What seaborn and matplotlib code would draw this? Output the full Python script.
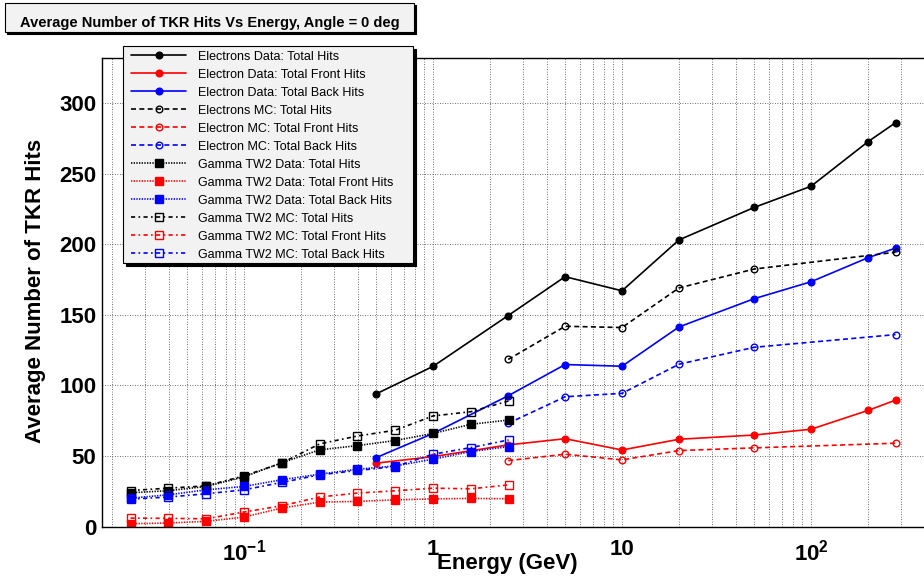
import numpy as np
import pandas as pd
import matplotlib
matplotlib.use("Agg")
import matplotlib.pyplot as plt
import matplotlib.ticker as mticker
from matplotlib.patches import Rectangle
import seaborn as sns

# Energies (GeV)
e_el = [0.5, 1, 2.5, 5, 10, 20, 50, 100, 200, 280]
e_mc = [2.5, 5, 10, 20, 50, 280]
e_gam = [0.0251, 0.0398, 0.0631, 0.1, 0.158, 0.251, 0.398, 0.631, 1.0, 1.585, 2.512]

# Electron beam data
el_data_tot = [94, 113.5, 149.5, 177, 167, 203, 226, 241, 272.5, 286]
el_data_front = [45, 49.6, 57.9, 62.3, 54.3, 61.9, 64.9, 69, 82.3, 89.6]
el_data_back = [48.9, 66, 92.7, 114.8, 113.6, 141.4, 161.4, 173.4, 190.4, 197.2]
# Electron MC
el_mc_tot = [118.4, 141.9, 141, 169, 182.4, 194.3]
el_mc_front = [46.8, 51.3, 47.3, 53.9, 55.8, 59.1]
el_mc_back = [73.2, 92, 94.4, 115, 127, 136]
# Gamma TW2 data
gam_data_tot = [24, 25.5, 28.5, 35.3, 45.2, 54.4, 57.4, 61, 66, 72.5, 75.5]
gam_data_front = [2.1, 2.6, 3.8, 6.8, 13.2, 17.4, 17.9, 19, 19.7, 20, 19.8]
gam_data_back = [20.2, 22.6, 26.1, 28.5, 33.2, 37.2, 40.7, 43, 47.8, 53.2, 56.7]
# Gamma TW2 MC
gam_mc_tot = [25.6, 27.3, 28.9, 36, 45, 58.6, 64.2, 68.3, 78.4, 81.4, 89]
gam_mc_front = [6.1, 5.9, 5.6, 10.4, 14.8, 21, 23.8, 25.4, 27.3, 26.8, 29.6]
gam_mc_back = [19.5, 21, 23.3, 26.1, 31.3, 36.7, 39.8, 42.6, 51.3, 56, 61.4]

x_tick_vals = [0.1, 1, 10, 100]
x_tick_labels = [r"$10^{-1}$", "1", "10", r"$10^{2}$"]

sns.set_style("white")
plt.rcParams["font.family"] = ["Liberation Sans", "DejaVu Sans"]
plt.rcParams["text.color"] = "black"
plt.rcParams["axes.labelcolor"] = "black"
plt.rcParams["xtick.color"] = "black"
plt.rcParams["ytick.color"] = "black"
plt.rcParams["mathtext.fontset"] = "custom"
plt.rcParams["mathtext.rm"] = "Liberation Sans:bold"
plt.rcParams["mathtext.bf"] = "Liberation Sans:bold"
plt.rcParams["mathtext.default"] = "rm"

W, H = 924, 580
fig = plt.figure(figsize=(W / 100, H / 100), dpi=100)
ax = fig.add_axes([102 / W, 1 - 526.7 / H, (935 - 102) / W, (526.7 - 58.3) / H])

solid = "-"
dashed = (0, (3, 2))
dotted = (0, (0.8, 0.8))
dashdot = (0, (2.5, 2, 1, 2))

series = [
    ("Electrons Data: Total Hits", e_el, el_data_tot, "black", solid, "o", True),
    ("Electron Data: Total Front Hits", e_el, el_data_front, "red", solid, "o", True),
    ("Electron Data: Total Back Hits", e_el, el_data_back, "blue", solid, "o", True),
    ("Electrons MC: Total Hits", e_mc, el_mc_tot, "black", dashed, "o", False),
    ("Electron MC: Total Front Hits", e_mc, el_mc_front, "red", dashed, "o", False),
    ("Electron MC: Total Back Hits", e_mc, el_mc_back, "blue", dashed, "o", False),
    ("Gamma TW2 Data: Total Hits", e_gam, gam_data_tot, "black", dotted, "s", True),
    ("Gamma TW2 Data: Total Front Hits", e_gam, gam_data_front, "red", dotted, "s", True),
    ("Gamma TW2 Data: Total Back Hits", e_gam, gam_data_back, "blue", dotted, "s", True),
    ("Gamma TW2 MC: Total Hits", e_gam, gam_mc_tot, "black", dashdot, "s", False),
    ("Gamma TW2 MC: Total Front Hits", e_gam, gam_mc_front, "red", dashdot, "s", False),
    ("Gamma TW2 MC: Total Back Hits", e_gam, gam_mc_back, "blue", dashdot, "s", False),
]

for label, xs, ys, col, ls, mk, filled in series:
    df = pd.DataFrame({"energy": xs, "hits": ys})
    ms = 4.8 if mk == "o" else 5.2
    sns.lineplot(data=df, x="energy", y="hits", ax=ax, color=col,
                 linestyle=ls, linewidth=1.2, marker=mk, markersize=ms,
                 markerfacecolor=col if filled else "none",
                 markeredgecolor=col, markeredgewidth=1.0, label=label,
                 legend=False)

ax.set_xscale("log")
ax.set_xlim(10 ** -1.7513, 10 ** 2.656)
ax.set_ylim(0, 331.6)

ax.xaxis.set_major_locator(mticker.FixedLocator(x_tick_vals))
ax.xaxis.set_major_formatter(mticker.FixedFormatter(x_tick_labels))
ax.xaxis.set_minor_locator(mticker.LogLocator(base=10, subs=np.arange(2, 10), numticks=20))
ax.xaxis.set_minor_formatter(mticker.NullFormatter())
ax.yaxis.set_major_locator(mticker.MultipleLocator(50))
ax.yaxis.set_minor_locator(mticker.MultipleLocator(10))

ax.tick_params(axis="both", which="both", direction="in", colors="black")
ax.tick_params(axis="x", which="major", length=10, width=1.0, pad=9, labelsize=16)
ax.tick_params(axis="x", which="minor", length=6, width=0.8)
ax.tick_params(axis="y", which="major", length=14, width=1.0, pad=4, labelsize=16)
ax.tick_params(axis="y", which="minor", length=7, width=0.8)
for t in ax.get_xticklabels() + ax.get_yticklabels():
    t.set_fontweight("bold")

ax.grid(True, which="major", axis="both", color="0.25", linestyle=(0, (1, 2)), linewidth=0.6)
ax.grid(True, which="minor", axis="x", color="0.25", linestyle=(0, (1, 2)), linewidth=0.6)
ax.set_axisbelow(True)
for sp in ax.spines.values():
    sp.set_color("black")
    sp.set_linewidth(1.0)
ax.set_xlabel("")
ax.set_ylabel("")

fig.text(36 / W, 1 - 291 / H, "Average Number of TKR Hits", rotation=90,
         ha="center", va="center", fontsize=16, fontweight="bold")
fig.text(437 / W, 1 - 564 / H, "Energy (GeV)", ha="left", va="center",
         fontsize=16, fontweight="bold")

# title box (ROOT style pave with shadow)
def pave(x0, y0, x1, y1, off):
    fig.add_artist(Rectangle((x0 / W + off / W, 1 - (y1 + off) / H), (x1 - x0) / W, (y1 - y0) / H,
                             transform=fig.transFigure, facecolor="black", edgecolor="black",
                             linewidth=0.8, zorder=3.8))
    fig.add_artist(Rectangle((x0 / W, 1 - y1 / H), (x1 - x0) / W, (y1 - y0) / H,
                             transform=fig.transFigure, facecolor="#f2f2f2", edgecolor="black",
                             linewidth=0.8, zorder=3.9))

pave(5, 3, 414, 32, 2)
fig.text(20 / W, 1 - 27 / H, "Average Number of TKR Hits Vs Energy, Angle =",
         ha="left", va="baseline", fontsize=10.5, fontweight="bold", zorder=6)
fig.text(400 / W, 1 - 27 / H, "0 deg", ha="right", va="baseline",
         fontsize=10.5, fontweight="bold", zorder=6)

# legend box
pave(123.3, 45.7, 413, 263, 3)
handles, labels = ax.get_legend_handles_labels()
fig.legend(handles, labels, loc="upper left",
           bbox_to_anchor=(131 / W, 1 - 50.5 / H), bbox_transform=fig.transFigure,
           frameon=False, fontsize=9, borderpad=0, borderaxespad=0,
           handlelength=4.4, handletextpad=1.0, labelspacing=0.48)

fig.savefig("out.png", dpi=100)
